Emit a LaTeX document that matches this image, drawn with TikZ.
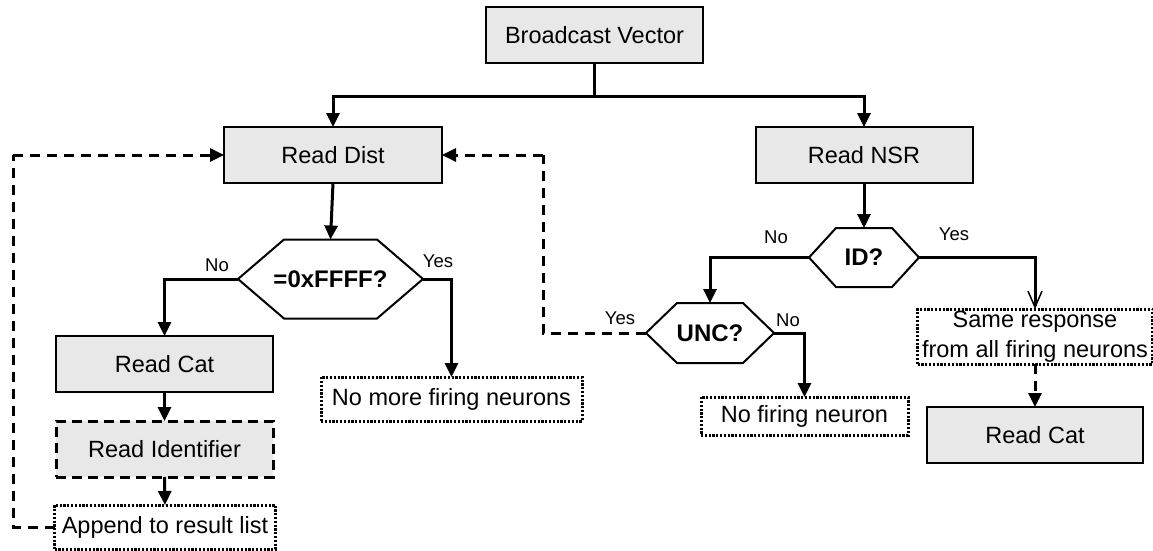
\documentclass[tikz,border=0pt]{standalone}
\usepackage{fontspec}
\setmainfont{Liberation Sans}
\usetikzlibrary{arrows.meta}
\definecolor{boxgray}{RGB}{232,232,232}
\newcommand\hexpath[2]{\draw[hexline] (#1.west) -- ([xshift=#2]#1.north west) -- ([xshift=-#2]#1.north east) -- (#1.east) -- ([xshift=-#2]#1.south east) -- ([xshift=#2]#1.south west) -- cycle;}
\begin{document}
\begin{tikzpicture}[x=1pt,y=-1pt,
  every node/.style={inner sep=0pt,outer sep=0pt},
  boxtxt/.style={font=\fontsize{23.5}{30}\selectfont},
  box/.style={boxtxt,draw,line width=2pt,fill=boxgray},
  dashbox/.style={boxtxt,draw,line width=3pt,fill=boxgray,dash pattern=on 10pt off 6pt},
  dotbox/.style={boxtxt,draw,line width=3pt,fill=white,dash pattern=on 2.2pt off 1.6pt},
  hexnode/.style={font=\fontsize{24}{28}\selectfont\bfseries},
  hexline/.style={draw,line width=2pt,fill=white},
  conn/.style={line width=3pt,-{Triangle[length=14pt,width=13pt]}},
  plainconn/.style={line width=3pt},
  openconn/.style={line width=3pt,-{Straight Barb[length=16pt,width=14pt,line width=1.5pt]}},
  dconn/.style={line width=3pt,dash pattern=on 10pt off 7pt},
  lbl/.style={font=\fontsize{18.5}{20}\selectfont}
]
\useasboundingbox (0,0) rectangle (1153,550);

% boxes
\node[box,minimum width=217pt,minimum height=56pt] (bv) at (594.5,35) {Broadcast Vector};
\node[box,minimum width=218pt,minimum height=56pt] (rd) at (333,155) {Read Dist};
\node[box,minimum width=217pt,minimum height=56pt] (nsr) at (864,155) {Read NSR};
\node[box,minimum width=217pt,minimum height=56pt] (rc1) at (164.5,364) {Read Cat};
\node[dashbox,minimum width=217pt,minimum height=56pt] (ri) at (164.5,449) {Read Identifier};
\node[dotbox,minimum width=221pt,minimum height=44pt] (ap) at (165,527) {Append to result list};
\node[dotbox,minimum width=261pt,minimum height=44pt] (nm) at (451.5,399) {No more firing neurons};
\node[dotbox,minimum width=207pt,minimum height=38pt] (nf) at (804.5,416) {No firing neuron};
\node[dotbox,minimum width=235pt,minimum height=55pt,align=center] (sr) at (1035,336.5) {Same response\\from all firing neurons};
\node[box,minimum width=216pt,minimum height=56pt] (rc2) at (1035,435) {Read Cat};

% hexagons
\node[hexnode,minimum width=185pt,minimum height=79pt] (h1) at (330.5,279) {};
\hexpath{h1}{46pt}
\node[hexnode] at (h1) {=0xFFFF?};
\node[hexnode,minimum width=110pt,minimum height=59pt] (id) at (864,257.5) {};
\hexpath{id}{27pt}
\node[hexnode] at (id) {ID?};
\node[hexnode,minimum width=128pt,minimum height=60pt] (unc) at (710,333) {};
\hexpath{unc}{31pt}
\node[hexnode] at (unc) {UNC?};

% connectors
\coordinate (j) at (594.5,96);
\draw[plainconn] (bv.south) -- (j);
\draw[conn] (j) -| (rd.north);
\draw[conn] (j) -| (nsr.north);
\draw[conn] (rd.south) -- (h1.north);
\draw[conn] (h1.west) -| (rc1.north);
\draw[conn] (h1.east) -| (nm.north);
\draw[conn] (rc1.south) -- (ri.north);
\draw[conn] (ri.south) -- (ap.north);
\coordinate (lx) at (13,155);
\draw[dconn] (ap.west) -| (lx);
\draw[dconn,-{Triangle[length=14pt,width=13pt]}] (lx) -- (rd.west);
\draw[conn] (nsr.south) -- (id.north);
\draw[conn] (id.west) -| (unc.north);
\draw[openconn] (id.east) -| (sr.north);
\coordinate (rx) at (543,155);
\draw[dconn] (unc.west) -| (rx);
\draw[dconn,-{Triangle[length=14pt,width=13pt]}] (rx) -- (rd.east);
\draw[conn] (unc.east) -| (nf.north);
\draw[dconn,-{Triangle[length=14pt,width=13pt]}] (sr.south) -- (rc2.north);

% labels
\node[lbl] (l1) at (217,265) {No};
\node[lbl] (l2) at (438,261) {Yes};
\node[lbl] (l3) at (776,237) {No};
\node[lbl] (l4) at (954,234) {Yes};
\node[lbl] (l5) at (620,318) {Yes};
\node[lbl] (l6) at (788,320) {No};
\end{tikzpicture}
\end{document}
